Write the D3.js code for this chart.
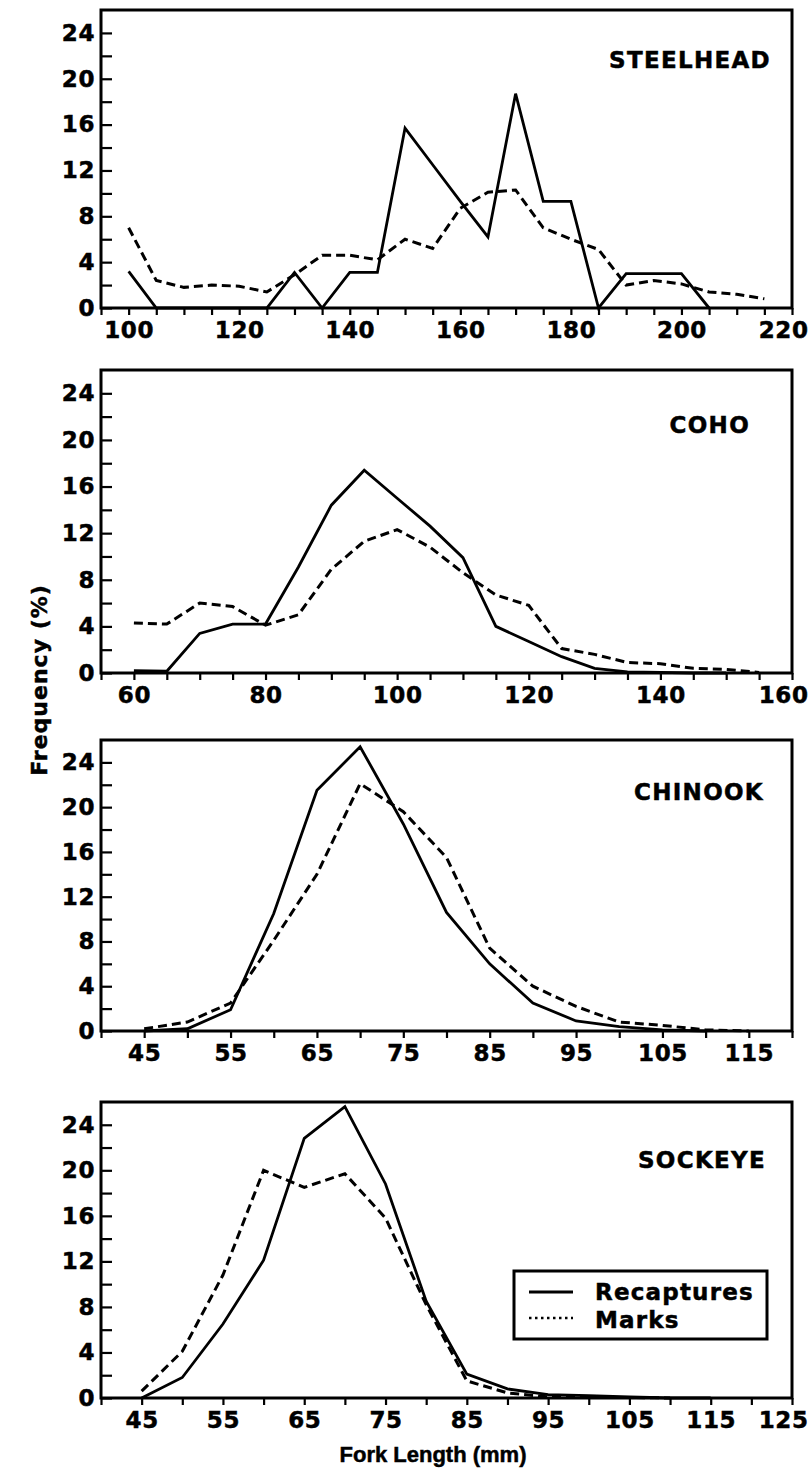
<!DOCTYPE html>
<html>
<head>
<meta charset="utf-8">
<script src="https://cdn.jsdelivr.net/npm/d3@7"></script>
<style>
  html, body { margin: 0; padding: 0; background: #fff; }
  svg { display: block; }
  text { font-family: "DejaVu Sans", "Liberation Sans", sans-serif; font-weight: bold; fill: #000;
         stroke: #000; stroke-width: 0.5px; }
</style>
</head>
<body>
<svg id="chart" width="811" height="1472"></svg>
<script>
// ---------- DATA ----------
const speciesNames = ["STEELHEAD", "COHO", "CHINOOK", "SOCKEYE"];
const yTickLabels = [0, 4, 8, 12, 16, 20, 24];

const steelheadLengths = [100,105,110,115,120,125,130,135,140,145,150,155,160,165,170,175,180,185,190,195,200,205,210,215,220];
const steelheadRecaptures = [3.2,0,0,0,0,0,3.1,0,3.1,3.1,15.7,12.5,9.3,6.2,18.7,9.3,9.3,0,3.0,3.0,3.0,0,null,null,null];
const steelheadMarks = [7.0,2.4,1.8,2.0,1.9,1.4,2.9,4.6,4.6,4.2,6.0,5.2,8.7,10.1,10.3,7.0,6.0,5.1,2.0,2.4,2.1,1.4,1.2,0.8,null];
const steelheadTicks = [100,120,140,160,180,200,220];

const cohoLengths = [60,65,70,75,80,85,90,95,100,105,110,115,120,125,130,135,140,145,150,155,160];
const cohoRecaptures = [0.2,0.15,3.4,4.2,4.2,9.1,14.4,17.4,15.0,12.6,9.9,4.0,2.7,1.4,0.4,0.1,0.05,0,0,null,null];
const cohoMarks = [4.3,4.2,6.0,5.7,4.1,5.0,8.9,11.3,12.3,10.8,8.6,6.7,5.8,2.1,1.6,0.9,0.8,0.4,0.3,0.05,null];
const cohoTicks = [60,80,100,120,140,160];

const chinookLengths = [45,50,55,60,65,70,75,80,85,90,95,100,105,110,115];
const chinookRecaptures = [0,0.2,1.9,10.5,21.5,25.4,18.5,10.6,6.0,2.5,0.9,0.4,0.1,0,null];
const chinookMarks = [0.2,0.8,2.5,8.1,14.0,22.1,19.6,15.5,7.4,4.0,2.2,0.8,0.5,0.1,0];
const chinookTicks = [45,55,65,75,85,95,105,115];

const sockeyeLengths = [45,50,55,60,65,70,75,80,85,90,95,100,105,110,115,120,125];
const sockeyeRecaptures = [0,1.8,6.5,12.1,22.8,25.6,18.8,8.5,2.1,0.8,0.3,0.2,0.1,0,0,null,null];
const sockeyeMarks = [0.6,4.1,10.8,20.0,18.5,19.7,15.8,8.2,1.5,0.45,0.1,0.05,0.05,0,null,null,null];
const sockeyeTicks = [45,55,65,75,85,95,105,115,125];

const legendLabels = ["Recaptures", "Marks"];
const xAxisTitle = "Fork Length (mm)";
const yAxisTitle = "Frequency (%)";

// ---------- LAYOUT ----------
const panels = [
  { name: speciesNames[0], lengths: steelheadLengths, rec: steelheadRecaptures, marks: steelheadMarks, ticks: steelheadTicks,
    xDomain: [95, 220], top: 10, bottom: 308, titleRight: 771, titleBase: 68 },
  { name: speciesNames[1], lengths: cohoLengths, rec: cohoRecaptures, marks: cohoMarks, ticks: cohoTicks,
    xDomain: [55, 160], top: 370, bottom: 673, titleRight: 750, titleBase: 433 },
  { name: speciesNames[2], lengths: chinookLengths, rec: chinookRecaptures, marks: chinookMarks, ticks: chinookTicks,
    xDomain: [40, 120], top: 740, bottom: 1031, titleRight: 764, titleBase: 800 },
  { name: speciesNames[3], lengths: sockeyeLengths, rec: sockeyeRecaptures, marks: sockeyeMarks, ticks: sockeyeTicks,
    xDomain: [40, 125], top: 1102, bottom: 1398, titleRight: 766, titleBase: 1168 }
];
const left = 101, right = 792;
const yDomain = [0, 26];
const W = 811;

const svg = d3.select("#chart");

panels.forEach(p => {
  const x = d3.scaleLinear().domain(p.xDomain).range([left, right]);
  const y = d3.scaleLinear().domain(yDomain).range([p.bottom, p.top]);
  const g = svg.append("g");

  // minor/major y ticks (inward)
  const yMinor = d3.range(0, 26, 2);
  g.append("g").attr("transform", `translate(${left},0)`)
    .call(d3.axisLeft(y).tickValues(yMinor).tickSize(-11).tickFormat(""))
    .call(a => a.select(".domain").remove())
    .call(a => a.selectAll("line").attr("stroke", "#000").attr("stroke-width", 2.2));
  // y labels
  g.append("g").attr("transform", `translate(${left},0)`)
    .call(d3.axisLeft(y).tickValues(yTickLabels).tickSize(0).tickPadding(6).tickFormat(d3.format("d")))
    .call(a => a.select(".domain").remove())
    .call(a => a.selectAll("text").attr("font-size", 23).attr("letter-spacing", "0.6px")
      .style("font-family", '"DejaVu Sans", sans-serif').style("font-weight", "bold")
      .attr("fill", "#000").attr("stroke", "#000").attr("stroke-width", 0.5));

  // x ticks (outward) every 5
  const xMinor = d3.range(Math.ceil(p.xDomain[0] / 5) * 5, p.xDomain[1] + 0.01, 5);
  g.append("g").attr("transform", `translate(0,${p.bottom})`)
    .call(d3.axisBottom(x).tickValues(xMinor).tickSize(7).tickFormat(""))
    .call(a => a.select(".domain").remove())
    .call(a => a.selectAll("line").attr("stroke", "#000").attr("stroke-width", 2.2));
  const xl = g.append("g").attr("transform", `translate(0,${p.bottom})`)
    .call(d3.axisBottom(x).tickValues(p.ticks).tickSize(0).tickPadding(14).tickFormat(d3.format("d")))
    .call(a => a.select(".domain").remove())
    .call(a => a.selectAll("text").attr("font-size", 23).attr("letter-spacing", "0.6px")
      .style("font-family", '"DejaVu Sans", sans-serif').style("font-weight", "bold")
      .attr("fill", "#000").attr("stroke", "#000").attr("stroke-width", 0.5));
  // keep the last label inside the picture, as in the reference
  xl.selectAll(".tick").each(function(d) {
    const t = d3.select(this).select("text");
    const bb = t.node().getBBox();
    const absRight = x(d) + bb.x + bb.width;
    if (absRight > W - 3) t.attr("x", -(absRight - (W - 3)));
  });

  // frame
  g.append("rect").attr("x", left).attr("y", p.top)
    .attr("width", right - left).attr("height", p.bottom - p.top)
    .attr("fill", "none").attr("stroke", "#000").attr("stroke-width", 3);

  const pts = (vals) => p.lengths.map((L, i) => ({ x: L, y: vals[i] }));
  const line = d3.line().defined(d => d.y !== null).x(d => x(d.x)).y(d => y(d.y));

  g.append("path").datum(pts(p.marks)).attr("d", line)
    .attr("fill", "none").attr("stroke", "#000").attr("stroke-width", 3)
    .attr("stroke-dasharray", "9,5");
  g.append("path").datum(pts(p.rec)).attr("d", line)
    .attr("fill", "none").attr("stroke", "#000").attr("stroke-width", 2.8)
    .attr("stroke-linejoin", "miter");

  g.append("text").attr("x", p.titleRight).attr("y", p.titleBase)
    .attr("text-anchor", "end").attr("font-size", 23).attr("letter-spacing", "1.3px")
    .text(p.name);
});

// axis titles
svg.append("text").attr("transform", "translate(47,680) rotate(-90)")
  .attr("text-anchor", "middle").attr("font-size", 22).attr("letter-spacing", "1px")
  .text(yAxisTitle);
svg.append("text").attr("x", 433).attr("y", 1462)
  .attr("text-anchor", "middle").attr("font-size", 22)
  .style("font-family", '"Liberation Sans", Arial, sans-serif')
  .text(xAxisTitle);

// legend
const lg = svg.append("g");
lg.append("rect").attr("x", 514).attr("y", 1271).attr("width", 253).attr("height", 68)
  .attr("fill", "#fff").attr("stroke", "#000").attr("stroke-width", 3);
lg.append("line").attr("x1", 529).attr("x2", 573).attr("y1", 1292).attr("y2", 1292)
  .attr("stroke", "#000").attr("stroke-width", 3);
lg.append("line").attr("x1", 529).attr("x2", 573).attr("y1", 1318).attr("y2", 1318)
  .attr("stroke", "#000").attr("stroke-width", 2.5).attr("stroke-dasharray", "2.5,3.5");
lg.selectAll("text.leg").data(legendLabels).enter().append("text")
  .attr("class", "leg").attr("x", 595).attr("y", (d, i) => 1300 + i * 28)
  .attr("font-size", 23).attr("letter-spacing", "1.2px").text(d => d);
</script>
</body>
</html>
